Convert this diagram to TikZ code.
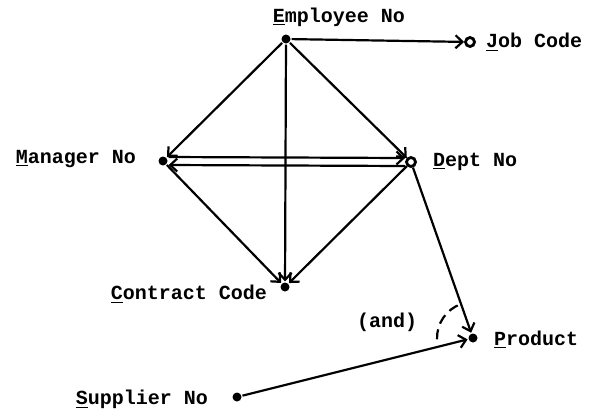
\documentclass[tikz,border=0pt]{standalone}
\usepackage{fontspec}
\setmonofont{Liberation Mono}
\usetikzlibrary{arrows.meta}
\tikzset{
  every picture/.style={line width=1.1pt},
  dot/.style={circle, fill, inner sep=0pt, minimum size=4.5pt},
  ring/.style={circle, draw, line width=1.4pt, inner sep=0pt, minimum size=4.5pt},
  attr/.style={font=\ttfamily\bfseries, inner sep=0pt},
  dep/.style={-{Straight Barb[length=3.5pt, width=6.5pt]}},
}
\begin{document}
\begin{tikzpicture}[x=0.5pt, y=-0.5pt]
  \useasboundingbox (0,0) rectangle (603,408);
  % attribute points
  \node[dot]  (emp)  at (286,39)  {};
  \node[ring] (job)  at (470,42)  {};
  \node[dot]  (mgr)  at (163,161) {};
  \node[ring] (dept) at (411,162) {};
  \node[dot]  (con)  at (285,287) {};
  \node[dot]  (prod) at (473,338) {};
  \node[dot]  (sup)  at (237,397) {};
  % attribute names
  \node[attr, anchor=base]      (emplbl)  at (339,22)  {\underline{E}mployee No};
  \node[attr, anchor=base west] (joblbl)  at (485,47)  {\underline{J}ob Code};
  \node[attr, anchor=base east] (mgrlbl)  at (137,163) {\underline{M}anager No};
  \node[attr, anchor=base west] (deptlbl) at (432,166) {\underline{D}ept No};
  \node[attr, anchor=base east] (conlbl)  at (268,299) {\underline{C}ontract Code};
  \node[attr, anchor=base west] (prodlbl) at (493,345) {\underline{P}roduct};
  \node[attr, anchor=base east] (suplbl)  at (209,404) {\underline{S}upplier No};
  \node[attr, anchor=base]      (andlbl)  at (387,327) {(and)};
  % dependencies
  \draw[dep] (emp) -- (job);
  \draw[dep] (emp) -- (mgr);
  \draw[dep] (emp) -- (dept);
  \draw[dep] (emp) -- (con);
  \draw[dep] ([yshift=2pt]mgr.east) -- ([yshift=2pt]dept.west);
  \draw[dep] ([yshift=-2pt]dept.west) -- ([yshift=-2pt]mgr.east);
  \draw[dep] (mgr) -- (con);
  \draw[dep] (dept) -- (con);
  \draw[dep] (dept) -- (prod);
  \draw[dep] (sup) -- (prod);
  % joint determinant mark
  \draw[dashed, dash pattern=on 5pt off 3pt] (prod) ++(178:36) arc[start angle=178, end angle=250, radius=36];
\end{tikzpicture}
\end{document}
